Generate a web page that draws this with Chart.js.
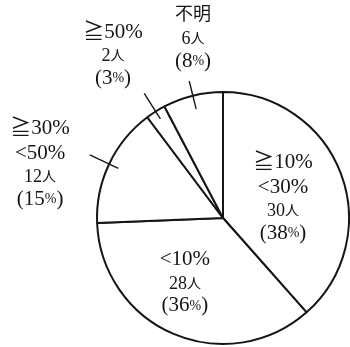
<!DOCTYPE html>
<html>
<head>
<meta charset="utf-8">
<script src="https://cdn.jsdelivr.net/npm/chart.js@4"></script>
<style>
  html, body { margin: 0; padding: 0; background: #fff; }
  #wrap { width: 350px; height: 347px; position: relative; }
</style>
</head>
<body>
<div id="wrap"><canvas id="pieChart"></canvas></div>
<script>
// 区分と人数
const categories = [['≧10%', '<30%'], ['<10%'], ['≧30%', '<50%'], ['≧50%'], ['不明']];
const counts = [30, 28, 12, 2, 6];

// ラベル位置（半径を単位とした中心からのずれ、最初の行の位置）
const labelOffsets = [[0.476, -0.444], [-0.302, 0.333], [-1.452, -0.714], [-0.873, -1.476], [-0.238, -1.611]];
// 引き出し線（内側・外側の半径比）、null は線なし
const leaders = [null, null, [0.92, 1.17], [0.93, 1.17], [0.89, 1.12]];

const SERIF = '"Liberation Serif", "DejaVu Serif", "Noto Sans CJK JP", serif';
const INK = '#151515';

// 文字列を複数サイズで中央揃えに描く
function drawRuns(ctx, runs, cx, y) {
    let w = 0;
    runs.forEach(r => { ctx.font = `${r.size}px ${SERIF}`; w += ctx.measureText(r.t).width; });
    let x = cx - w / 2;
    runs.forEach(r => {
        ctx.font = `${r.size}px ${SERIF}`;
        ctx.fillText(r.t, x, y);
        x += ctx.measureText(r.t).width;
    });
}

const sliceLabels = {
    id: 'sliceLabels',
    afterDatasetsDraw(chart) {
        const ctx = chart.ctx;
        const meta = chart.getDatasetMeta(0);
        const total = counts.reduce((a, b) => a + b, 0);
        ctx.save();
        ctx.fillStyle = INK;
        ctx.strokeStyle = INK;
        ctx.textBaseline = 'middle';
        meta.data.forEach((arc, i) => {
            const { x, y, startAngle, endAngle, outerRadius } = arc.getProps(['x', 'y', 'startAngle', 'endAngle', 'outerRadius'], true);
            const r = outerRadius;
            if (leaders[i]) {
                const mid = (startAngle + endAngle) / 2;
                const [a, b] = leaders[i];
                ctx.lineWidth = 1.4;
                ctx.beginPath();
                ctx.moveTo(x + Math.cos(mid) * r * a, y + Math.sin(mid) * r * a);
                ctx.lineTo(x + Math.cos(mid) * r * b, y + Math.sin(mid) * r * b);
                ctx.stroke();
            }
            const cx = x + labelOffsets[i][0] * r;
            let ly = y + labelOffsets[i][1] * r;
            categories[i].forEach((line, k) => {
                // 漢字の行は少し小さめ
                const size = /[\u4e00-\u9fff]/.test(line) ? 18 : 21;
                drawRuns(ctx, [{ t: line, size }], cx, ly);
                ly += k < categories[i].length - 1 ? 25 : 24;
            });
            drawRuns(ctx, [{ t: String(counts[i]), size: 18 }, { t: '人', size: 14 }], cx, ly);
            ly += 22;
            const pct = Math.round(counts[i] / total * 100);
            drawRuns(ctx, [{ t: '(' + pct, size: 21 }, { t: '%', size: 14 }, { t: ')', size: 21 }], cx, ly);
        });
        ctx.restore();
    }
};

new Chart(document.getElementById('pieChart'), {
    type: 'pie',
    data: {
        labels: categories.map(c => c.join('')),
        datasets: [{
            data: counts,
            backgroundColor: '#ffffff',
            borderColor: INK,
            borderWidth: 2
        }]
    },
    options: {
        responsive: true,
        maintainAspectRatio: false,
        animation: false,
        layout: { padding: { left: 96, right: 0, top: 91, bottom: 2 } },
        plugins: { legend: { display: false }, tooltip: { enabled: false } }
    },
    plugins: [sliceLabels]
});
</script>
</body>
</html>
